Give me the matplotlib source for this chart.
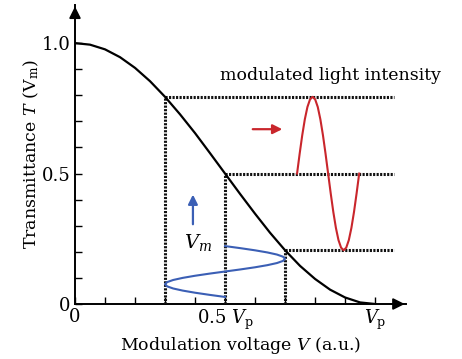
import numpy as np
import matplotlib.pyplot as plt

plt.rcParams['font.family'] = 'DejaVu Serif'
plt.rcParams['mathtext.fontset'] = 'dejavuserif'

# transmittance curve T(V), V in units of Vp
volt = [0.0, 0.05, 0.1, 0.15, 0.2, 0.25, 0.3, 0.35, 0.4, 0.45, 0.5,
        0.55, 0.6, 0.65, 0.7, 0.75, 0.8, 0.85, 0.9, 0.95, 1.0]
trans = [1.000, 0.994, 0.976, 0.946, 0.905, 0.854, 0.794, 0.727, 0.655, 0.578, 0.500,
         0.422, 0.346, 0.273, 0.206, 0.146, 0.096, 0.055, 0.025, 0.006, 0.000]

# operating points: bias +/- modulation amplitude
op_v = [0.3, 0.5, 0.7]
op_t = [0.794, 0.500, 0.206]

# one period of the output light intensity (red) and the drive voltage (blue)
light_out = [0.500, 0.576, 0.647, 0.708, 0.755, 0.784, 0.794, 0.784, 0.755, 0.708,
             0.647, 0.576, 0.500, 0.424, 0.353, 0.292, 0.245, 0.216, 0.206, 0.216,
             0.245, 0.292, 0.353, 0.424, 0.500]
drive_v = [0.500, 0.552, 0.600, 0.641, 0.673, 0.693, 0.700, 0.693, 0.673, 0.641,
           0.600, 0.552, 0.500, 0.448, 0.400, 0.359, 0.327, 0.307, 0.300, 0.307,
           0.327, 0.359, 0.400, 0.448, 0.500]

RED = '#c9262c'
BLUE = '#3b5fb5'

fig = plt.figure(figsize=(4.62, 3.59), dpi=100)
ax = fig.add_axes([75/462, 55/359, 331/462, 299/359])
xmax, ymax = 1.103, 1.146
ax.set_xlim(0, xmax)
ax.set_ylim(0, ymax)

ax.plot(volt, trans, color='k', lw=1.6, zorder=4)

dots = dict(color='#111111', lw=2.2, ls=(0, (0.7, 0.45)), zorder=3)
for v, t in zip(op_v, op_t):
    ax.plot([v, v], [0, t], **dots)
    ax.plot([v, 1.063], [t, t], **dots)

# red output wave, time runs to the right
t_red = np.linspace(0.74, 0.947, len(light_out))
ax.plot(t_red, light_out, color=RED, lw=1.5, zorder=5)
ax.annotate('', xy=(0.70, 0.67), xytext=(0.583, 0.67),
            arrowprops=dict(arrowstyle='-|>', color=RED, lw=1.6, mutation_scale=14))

# blue drive wave, time runs downward
t_blue = np.linspace(0.222, 0.027, len(drive_v))
ax.plot(drive_v, t_blue, color=BLUE, lw=1.5, zorder=5)
ax.annotate('', xy=(0.393, 0.43), xytext=(0.393, 0.295),
            arrowprops=dict(arrowstyle='-|>', color=BLUE, lw=1.6, mutation_scale=14))
ax.text(0.41, 0.235, '$V_m$', fontsize=14, ha='center', va='center')

ax.text(0.85, 0.875, 'modulated light intensity', fontsize=12.5, ha='center', va='center',
        clip_on=False)

# axes with arrow heads
for s in ['top', 'right']:
    ax.spines[s].set_visible(False)
for s in ['left', 'bottom']:
    ax.spines[s].set_linewidth(1.4)
ax.annotate('', xy=(xmax + 0.005, 0), xytext=(xmax - 0.06, 0), annotation_clip=False,
            arrowprops=dict(arrowstyle='-|>', color='k', lw=1.4, mutation_scale=17))
ax.annotate('', xy=(0, ymax + 0.005), xytext=(0, ymax - 0.06), annotation_clip=False,
            arrowprops=dict(arrowstyle='-|>', color='k', lw=1.4, mutation_scale=17))

ax.set_xticks(np.arange(0, 1.01, 0.1), minor=True)
ax.set_yticks(np.arange(0, 1.01, 0.1), minor=True)
ax.set_xticks([0, 0.5, 1.0], ['0', r'0.5 $V_{\mathrm{p}}$', r'$V_{\mathrm{p}}$'])
ax.set_yticks([0, 0.5, 1.0], ['0', '0.5', '1.0'])
ax.tick_params(which='both', direction='in', length=5, width=1.0, labelsize=13, pad=3)

ax.set_xlabel('Modulation voltage $V$ (a.u.)', fontsize=12.5, labelpad=2)
ax.set_ylabel(r'Transmittance $T$ (V$_{\mathrm{m}}$)', fontsize=12.5, labelpad=1)

fig.savefig('out.png', dpi=100)
